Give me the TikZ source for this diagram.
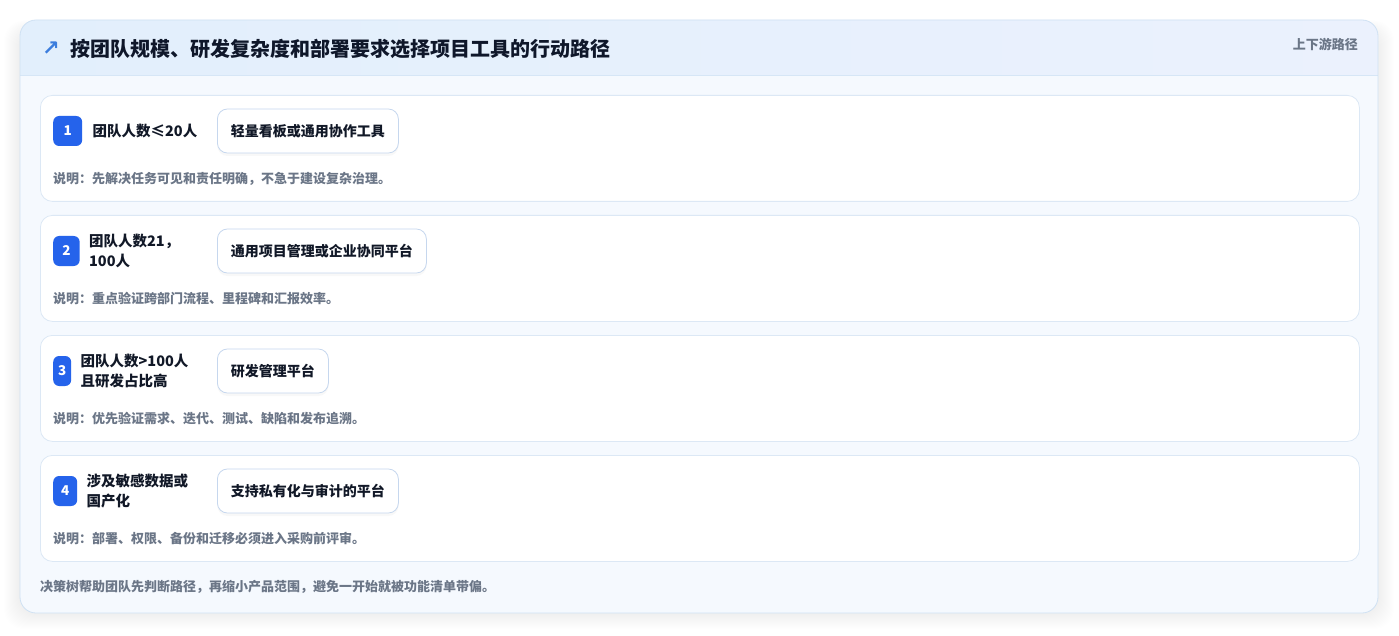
\documentclass[tikz,border=0pt]{standalone}
\usepackage{fontspec}
\setmainfont{Noto Sans CJK SC}
\newfontfamily\symfont{DejaVu Sans}
\usetikzlibrary{positioning,shadows}

\definecolor{cardline}{HTML}{CFE1F3}
\definecolor{headleft}{HTML}{E2EFFC}
\definecolor{headright}{HTML}{EBF1FD}
\definecolor{headline}{HTML}{D6E6F6}
\definecolor{bodyfill}{HTML}{F5F9FE}
\definecolor{rowline}{HTML}{DCE8F5}
\definecolor{badgeblue}{HTML}{2563EB}
\definecolor{toolline}{HTML}{C6D7EE}
\definecolor{inktext}{HTML}{111827}
\definecolor{titleink}{HTML}{0F172A}
\definecolor{notegray}{HTML}{6B7687}
\definecolor{arrowblue}{HTML}{3B7DDD}

\tikzset{
  rowcard/.style={draw=rowline, fill=white, rounded corners=12pt, line width=0.8pt,
    minimum width=1319pt, minimum height=106pt, anchor=north west, inner sep=0pt},
  badge/.style={fill=badgeblue, rounded corners=6pt, text=white, anchor=west,
    font=\bfseries\fontsize{13.5}{13.5}\selectfont, minimum height=30pt, inner sep=0pt},
  condtext/.style={align=left, inner sep=0pt, text=inktext,
    font=\bfseries\fontsize{14.5}{19.5}\selectfont},
  toolbox/.style={draw=toolline, fill=white, rounded corners=10pt, line width=0.8pt,
    minimum height=44pt, inner sep=0pt, anchor=west, text=inktext,
    font=\bfseries\fontsize{14}{14}\selectfont,
    drop shadow={opacity=0.05, shadow xshift=0pt, shadow yshift=-3pt}},
  notetext/.style={anchor=west, inner sep=0pt, text=notegray,
    font=\bfseries\fontsize{13}{13}\selectfont},
}

\begin{document}
\begin{tikzpicture}[x=1pt,y=-1pt]
  \useasboundingbox (0,0) rectangle (1399,636);

  % soft shadow round the card
  \foreach \s in {1,...,16}
    \fill[black, opacity=0.0045, rounded corners=20pt] (20-\s,30-0.6*\s) rectangle (1378+\s,613+\s);

  \fill[bodyfill, rounded corners=16pt] (20,20) rectangle (1378,613);
  \begin{scope}
    \clip[rounded corners=16pt] (20,20) rectangle (1378,613);
    \shade[left color=headleft, right color=headright] (20,20) rectangle (1378,75);
  \end{scope}
  \draw[headline] (20,75) -- (1378,75);
  \draw[cardline, line width=0.8pt, rounded corners=16pt] (20,20) rectangle (1378,613);

  \node[text=arrowblue, inner sep=0pt, font=\symfont\bfseries\fontsize{21}{21}\selectfont] (arrow) at (51,49) {↗};
  \node[anchor=west, inner sep=0pt, text=titleink, font=\bfseries\fontsize{20}{20}\selectfont]
    (title) at (70,49) {按团队规模、研发复杂度和部署要求选择项目工具的行动路径};
  \node[anchor=east, inner sep=0pt, text=notegray, font=\bfseries\fontsize{13}{13}\selectfont]
    (tag) at (1358,44.5) {上下游路径};

  % row 1
  \node[rowcard] (row1) at (40,95) {};
  \node[badge, minimum width=29pt] (badge1) at (53,131) {1};
  \node[condtext, right=10pt of badge1] (cond1) {团队人数≤20人};
  \node[toolbox, minimum width=181pt] (tool1) at (217,131) {轻量看板或通用协作工具};
  \node[notetext] (note1) at (53,179) {说明：先解决任务可见和责任明确，不急于建设复杂治理。};

  % row 2
  \node[rowcard] (row2) at (40,215) {};
  \node[badge, minimum width=26.5pt] (badge2) at (53,251) {2};
  \node[condtext, right=9pt of badge2] (cond2) {团队人数21，\\100人};
  \node[toolbox, minimum width=209pt] (tool2) at (217,251) {通用项目管理或企业协同平台};
  \node[notetext] (note2) at (53,299) {说明：重点验证跨部门流程、里程碑和汇报效率。};

  % row 3
  \node[rowcard] (row3) at (40,335) {};
  \node[badge, minimum width=18pt] (badge3) at (53,371) {3};
  \node[condtext, right=9pt of badge3] (cond3) {团队人数>100人\\且研发占比高};
  \node[toolbox, minimum width=111pt] (tool3) at (217,371) {研发管理平台};
  \node[notetext] (note3) at (53,419) {说明：优先验证需求、迭代、测试、缺陷和发布追溯。};

  % row 4
  \node[rowcard] (row4) at (40,455) {};
  \node[badge, minimum width=24pt] (badge4) at (53,491) {4};
  \node[condtext, right=9pt of badge4] (cond4) {涉及敏感数据或\\国产化};
  \node[toolbox, minimum width=181pt] (tool4) at (217,491) {支持私有化与审计的平台};
  \node[notetext] (note4) at (53,539) {说明：部署、权限、备份和迁移必须进入采购前评审。};

  \node[notetext] (footer) at (40,587) {决策树帮助团队先判断路径，再缩小产品范围，避免一开始就被功能清单带偏。};
\end{tikzpicture}
\end{document}
